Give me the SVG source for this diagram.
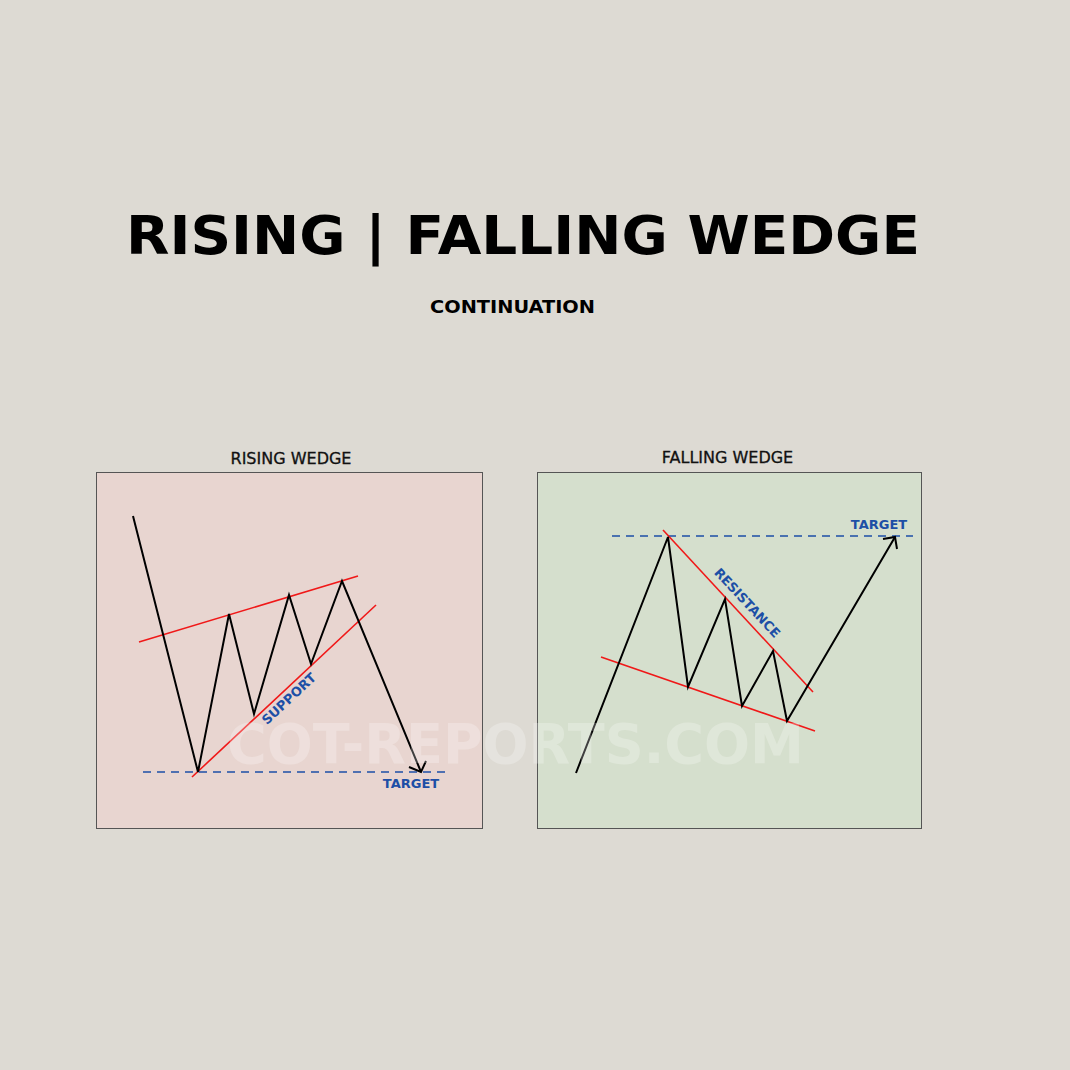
<svg xmlns="http://www.w3.org/2000/svg" width="1070" height="1070" viewBox="0 0 1070 1070">
<defs>
<style>
.bg{fill:#dddad3}
.panel{stroke:#555;stroke-width:1}
.price{fill:none;stroke:#000;stroke-width:2;stroke-linejoin:miter}
.trend{fill:none;stroke:#f01818;stroke-width:1.6}
.target{fill:none;stroke:#1d4fa6;stroke-width:1.5;stroke-dasharray:8 6}
.lbl{font-family:"DejaVu Sans",Verdana,sans-serif;font-weight:bold;fill:#1d4fa6;font-size:13px}
.head{font-family:"DejaVu Sans",Verdana,sans-serif;fill:#111;font-size:16px;text-anchor:middle;stroke:#111;stroke-width:0.3}
.title{font-family:"DejaVu Sans",Verdana,sans-serif;font-weight:bold;fill:#000}
</style>
</defs>
<rect class="bg" x="0" y="0" width="1070" height="1070"/>
<g id="title">
<text class="title" x="126" y="254" font-size="54" textLength="794" lengthAdjust="spacingAndGlyphs">RISING | FALLING WEDGE</text>
<text class="title" x="430" y="313" font-size="18" textLength="165" lengthAdjust="spacingAndGlyphs">CONTINUATION</text>
</g>
<g id="rising-wedge">
<text class="head" x="291" y="464">RISING WEDGE</text>
<rect class="panel" x="96.5" y="472.5" width="386" height="356" fill="#e8d5d0"/>
<line class="target" x1="143" y1="772" x2="445" y2="772"/>
<line class="trend" x1="139" y1="642" x2="358" y2="576"/>
<line class="trend" x1="192" y1="777" x2="376" y2="605"/>
<polyline class="price" points="133,516 198,772 229,614 254,714 289,595 311,664 342,581 421,772"/>
<polyline class="price" points="409,767 421,772 426,761"/>
<text class="lbl" transform="translate(292,702) rotate(-43)" text-anchor="middle">SUPPORT</text>
<text class="lbl" x="411" y="788" text-anchor="middle">TARGET</text>
</g>
<g id="falling-wedge">
<text class="head" x="727.5" y="463">FALLING WEDGE</text>
<rect class="panel" x="537.5" y="472.5" width="384" height="356" fill="#d5dfcd"/>
<line class="target" x1="612" y1="536" x2="913" y2="536"/>
<line class="trend" x1="663" y1="530" x2="813" y2="692"/>
<line class="trend" x1="601" y1="657" x2="815" y2="731"/>
<polyline class="price" points="576,773 668,537 688,687 725,599 742,706 773,651 787,721 895,537"/>
<polyline class="price" points="883,539 895,537 897,549"/>
<text class="lbl" transform="translate(744,606) rotate(47)" text-anchor="middle">RESISTANCE</text>
<text class="lbl" x="879" y="529" text-anchor="middle">TARGET</text>
</g>
<text x="227" y="763" font-family="DejaVu Sans,Verdana,sans-serif" font-weight="bold" font-size="55" fill="#ffffff" fill-opacity="0.25" textLength="577" lengthAdjust="spacingAndGlyphs">COT-REPORTS.COM</text>
</svg>
